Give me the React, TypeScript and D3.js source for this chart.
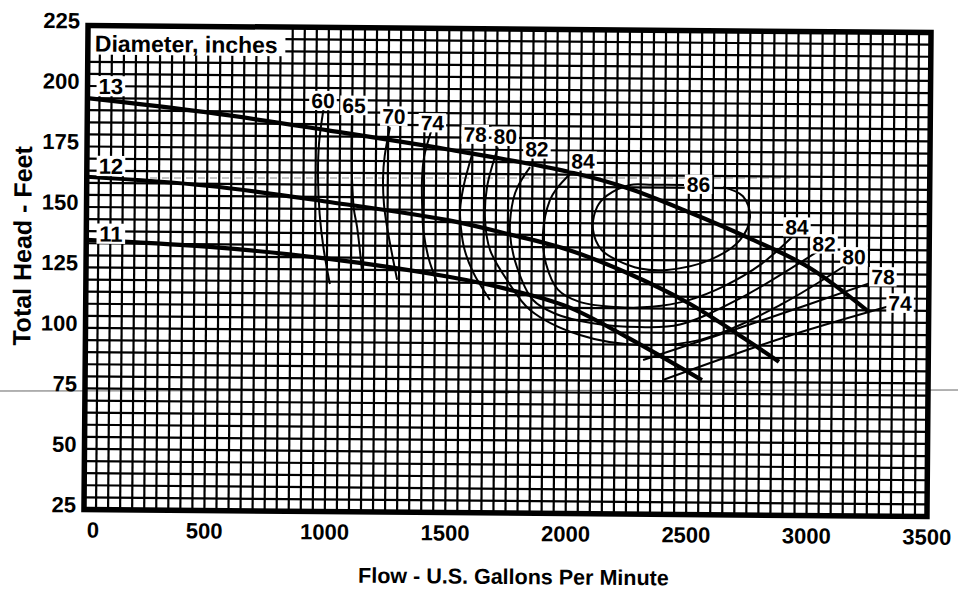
import React from "react";
import * as d3 from "d3";

// axis ticks
const flowTicks = [0, 500, 1000, 1500, 2000, 2500, 3000, 3500];
const headTicks = [25, 50, 75, 100, 125, 150, 175, 200, 225];

// impeller diameter curves, [flow gpm, head ft]
const dia13 = [[0, 195], [500, 189.5], [1000, 182.5], [1500, 175], [2000, 166.2], [2250, 159.5], [2500, 150], [2750, 139.5], [3000, 127.6], [3250, 109.5]];
const dia12 = [[0, 162.5], [500, 159.2], [1000, 153], [1500, 145.8], [1750, 140.3], [2000, 134], [2250, 124.5], [2500, 112.5], [2750, 97], [2880, 88.4]];
const dia11 = [[0, 136.4], [500, 134], [1000, 129.5], [1500, 122.5], [1750, 117.5], [2000, 110.5], [2250, 98], [2561, 80.6]];

// efficiency contours (%)
const eff60 = [[980, 191], [963, 177], [960, 163], [968, 148], [985, 134], [1013, 119]];
const eff65 = [[1099, 189], [1098, 176], [1101, 163], [1110, 150], [1124, 142.6], [1146, 124.5]];
const eff70 = [[1257, 184], [1236, 172], [1230, 163], [1235, 152], [1248, 143], [1292, 121]];
const eff74 = [[1432, 183.7], [1400, 172], [1392, 163], [1394, 150], [1400, 141], [1422, 130], [1458, 120]];
const eff78 = [[1599, 173], [1565, 160], [1551, 150], [1556, 142], [1570, 134], [1607, 124.4], [1678, 113]];
const eff80 = [[1706, 176], [1662, 159.6], [1655, 146], [1677, 133.6], [1748, 121.3], [1845, 109], [2053, 98.8], [2303, 94.9], [2552, 97.2], [2883, 111.9], [3175, 130]];
const eff82 = [[1840, 168], [1790, 160], [1771, 154.4], [1759, 140.7], [1789, 126.7], [1857, 113.1], [1950, 107.5], [2100, 103.8], [2300, 102.3], [2468, 103.5], [2716, 114.5], [3050, 135]];
const eff84 = [[2013, 166], [1950, 159], [1924, 154.5], [1896, 140.8], [1910, 128], [1960, 117.5], [2050, 112.5], [2200, 110.5], [2350, 110.7], [2500, 113.5], [2650, 119.5], [2800, 128.5], [2940, 141]];
const eff86 = [[2480, 161.2], [2350, 161.1], [2256, 161], [2160, 156.5], [2120, 151.8], [2104, 142.2], [2140, 134], [2204, 129.9], [2300, 126.5], [2412, 126], [2590, 130.3], [2714, 138.6], [2755, 148.2], [2725, 156.7], [2642, 160.4]];
const eff78Right = [[2316, 88.7], [2800, 105.2], [3290, 122.5]];
const eff74Right = [[2399, 80.5], [2900, 98.5], [3360, 112.5]];

const diameterCurves = [dia13, dia12, dia11];
const effCurves = [eff60, eff65, eff70, eff74, eff78, eff80, eff82, eff84, eff86, eff78Right, eff74Right];

// curve labels: [text, flow, head]
const diameterLabels = [["13", 97, 200], ["12", 100, 167], ["11", 102, 139]];
const effLabels = [
  ["60", 978, 194.8], ["65", 1107, 192.9], ["70", 1273, 188.6], ["74", 1433, 186],
  ["78", 1611, 181.4], ["80", 1736, 180.7], ["82", 1868, 175.5], ["84", 2060, 170.7],
  ["86", 2540, 161.5], ["84", 2950, 144.2], ["82", 3063, 137.3], ["80", 3188, 132.1],
  ["78", 3309, 123.9], ["74", 3381, 113.1],
];

const W = 958;
const H = 590;
const plot = { left: 86, right: 929, top: 29, bottom: 513 };
const font = "'Liberation Sans', Arial, Helvetica, sans-serif";

const Tag = ({ cx, cy, text, size }) => {
  const w = text.length * size * 0.56 + 4;
  const h = size * 0.78 + 3;
  return (
    <g>
      <rect x={cx - w / 2} y={cy - h / 2} width={w} height={h} fill="#fff" />
      <text x={cx} y={cy} dy="0.36em" textAnchor="middle" fontSize={size} fontWeight="bold">
        {text}
      </text>
    </g>
  );
};

const App = () => {
  const x = d3.scaleLinear().domain([0, 3500]).range([plot.left, plot.right]);
  const y = d3.scaleLinear().domain([25, 225]).range([plot.bottom, plot.top]);

  const line = d3
    .line<number[]>()
    .x((d) => x(d[0]))
    .y((d) => y(d[1]))
    .curve(d3.curveCatmullRom.alpha(0.5));

  const gridX = d3.range(0, 3501, 50);
  const gridY = d3.range(25, 226, 5);

  return (
    <svg
      width={W}
      height={H}
      style={{ position: "absolute", left: 0, top: 0, background: "#fff" }}
      fontFamily={font}
    >
      {/* scanner marks */}
      <line x1={0} x2={W} y1={391} y2={390} stroke="#666" strokeWidth={1} />
      <line x1={150} x2={790} y1={178} y2={178} stroke="#888" strokeWidth={1} strokeDasharray="7,5" />

      <g transform="rotate(0.48 507 271)">
        {/* grid */}
        <g stroke="#000" strokeWidth={2.2}>
          {gridX.map((f) => (
            <line key={"gx" + f} x1={x(f)} x2={x(f)} y1={y(225)} y2={y(25)} />
          ))}
          {gridY.map((h) => (
            <line key={"gy" + h} x1={x(0)} x2={x(3500)} y1={y(h)} y2={y(h)} />
          ))}
        </g>

        {/* Diameter header box */}
        <rect x={x(0)} y={y(225)} width={x(820) - x(0)} height={y(213) - y(225)} fill="#fff" />
        <text x={x(0) + 7} y={y(225) + 26} fontSize={23} fontWeight="bold">
          Diameter, inches
        </text>

        {/* efficiency curves */}
        <g fill="none" stroke="#000" strokeWidth={2}>
          {effCurves.map((c, i) => (
            <path key={"e" + i} d={line(c)} />
          ))}
        </g>

        {/* diameter curves */}
        <g fill="none" stroke="#000" strokeWidth={4.2}>
          {diameterCurves.map((c, i) => (
            <path key={"d" + i} d={line(c)} />
          ))}
        </g>

        {diameterLabels.map(([t, f, h]) => (
          <Tag key={"dl" + t} cx={x(f)} cy={y(h)} text={t} size={22} />
        ))}
        {effLabels.map(([t, f, h], i) => (
          <Tag key={"el" + i} cx={x(f)} cy={y(h)} text={t} size={21} />
        ))}

        {/* frame */}
        <rect
          x={plot.left}
          y={plot.top}
          width={plot.right - plot.left}
          height={plot.bottom - plot.top}
          fill="none"
          stroke="#000"
          strokeWidth={5.5}
        />

        {/* ticks */}
        {flowTicks.map((f) => (
          <text
            key={"xt" + f}
            x={x(f) + (f === 0 ? 9 : 0)}
            y={plot.bottom + 28}
            textAnchor="middle"
            fontSize={22}
            fontWeight="bold"
          >
            {f}
          </text>
        ))}
        {headTicks.map((h) => (
          <text key={"yt" + h} x={78} y={y(h) + 3} textAnchor="end" fontSize={22} fontWeight="bold">
            {h}
          </text>
        ))}

        <text x={516} y={584} textAnchor="middle" fontSize={21.5} fontWeight="bold">
          Flow - U.S. Gallons Per Minute
        </text>
        <text
          transform="translate(31, 250) rotate(-90)"
          textAnchor="middle"
          fontSize={25}
          fontWeight="bold"
        >
          Total Head - Feet
        </text>
      </g>
    </svg>
  );
};

export default App;
